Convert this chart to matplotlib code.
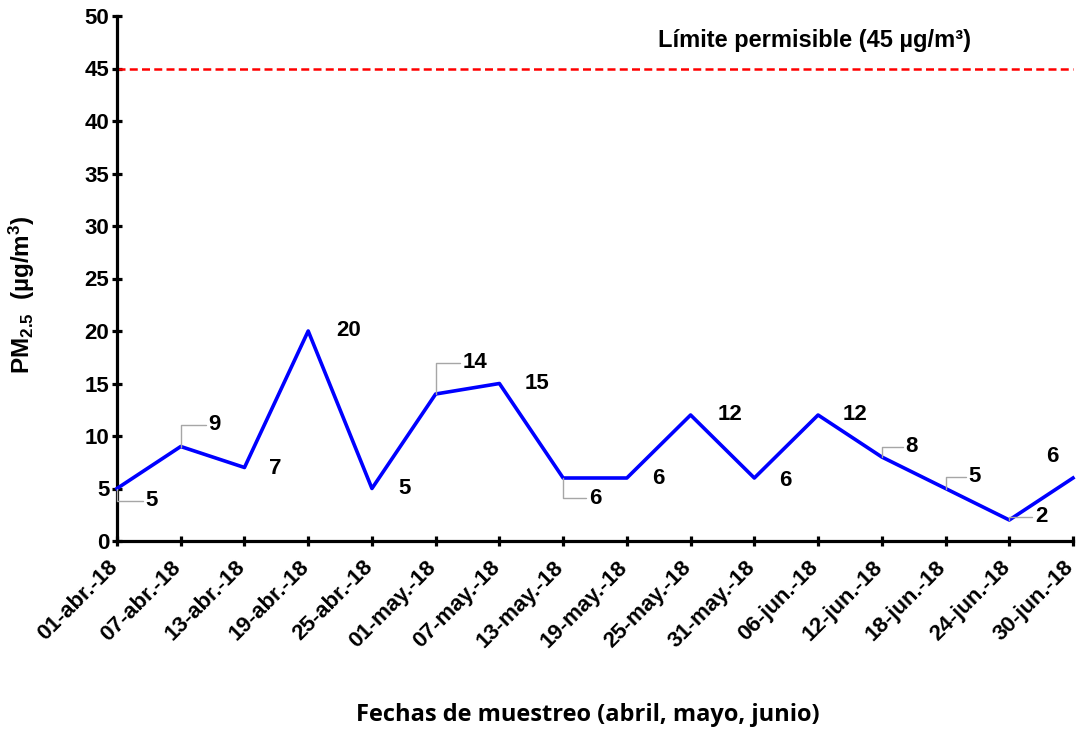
import matplotlib
matplotlib.use("Agg")
import matplotlib.pyplot as plt
from matplotlib.transforms import ScaledTranslation

# Muestreo de PM2.5 cada 6 dias (abril - junio 2018)
fechas = ["01-abr.-18", "07-abr.-18", "13-abr.-18", "19-abr.-18", "25-abr.-18",
          "01-may.-18", "07-may.-18", "13-may.-18", "19-may.-18", "25-may.-18",
          "31-may.-18", "06-jun.-18", "12-jun.-18", "18-jun.-18", "24-jun.-18",
          "30-jun.-18"]
pm25 = [5, 9, 7, 20, 5, 14, 15, 6, 6, 12, 6, 12, 8, 5, 2, 6]
limite = 45

# desplazamiento de cada etiqueta (pixeles) y si lleva linea guia
desp = [(35, -12), (34, 22), (31, -1), (40, 0), (33, 0), (39, 31), (38, 0),
        (32, -20), (31, 0), (39, 0), (31, -2), (37, 0), (30, 10), (29, 12),
        (32, 3), (-21, 21)]
guia = [True, True, False, False, False, True, False, True, False, False,
        False, False, True, True, True, False]

plt.rcParams["font.family"] = ["Liberation Sans", "DejaVu Sans"]
plt.rcParams["mathtext.fontset"] = "custom"
plt.rcParams["mathtext.rm"] = "Liberation Sans:bold"
plt.rcParams["mathtext.bf"] = "Liberation Sans:bold"
plt.rcParams["mathtext.default"] = "bf"

fig = plt.figure(figsize=(10.78, 7.29), dpi=100)
ax = fig.add_axes([117 / 1078, 1 - 541 / 729, (1073 - 117) / 1078, (541 - 16) / 729])

x = list(range(len(pm25)))
ax.plot(x, pm25, color="#0000ff", lw=2.6, clip_on=False, zorder=3)
ax.axhline(limite, color="#ff0000", lw=1.8, linestyle=(0, (3.2, 1.7)), clip_on=False)
ax.text(0.730, 0.954, "Límite permisible (45 µg/m³)", transform=ax.transAxes,
        fontsize=17, fontweight="bold", ha="center", va="center")

# etiquetas de valor
for i, v in enumerate(pm25):
    props = None
    if guia[i]:
        props = dict(arrowstyle="-", color="#a6a6a6", lw=1.0, shrinkA=0, shrinkB=0,
                     connectionstyle="angle,angleA=0,angleB=90,rad=0")
    ax.annotate(str(v), xy=(i, v), xytext=desp[i], textcoords="offset pixels",
                fontsize=16, fontweight="bold", ha="center", va="center",
                arrowprops=props, annotation_clip=False)

ax.set_xlim(0, len(pm25) - 1)
ax.set_ylim(0, 50)
ax.set_yticks(range(0, 51, 5))
ax.set_xticks(x)
ax.set_xticklabels(fechas, rotation=45, ha="right", rotation_mode="anchor")

for s in ["top", "right"]:
    ax.spines[s].set_visible(False)
for s in ["left", "bottom"]:
    ax.spines[s].set_linewidth(2.3)
ax.tick_params(direction="inout", length=7, width=2.3, labelsize=16)
ax.tick_params(axis="y", pad=2)
ax.tick_params(axis="x", pad=5)
mover = ScaledTranslation(-10 / 100, -4 / 100, fig.dpi_scale_trans)
for lab in ax.get_xticklabels():
    lab.set_fontweight("bold")
    lab.set_transform(lab.get_transform() + mover)
for lab in ax.get_yticklabels():
    lab.set_fontweight("bold")

fig.text(22 / 1078, 1 - 295 / 729, "PM$_{2.5}$  (µg/m$^3$)", rotation=90,
         fontsize=17.5, fontweight="bold", ha="center", va="center")
fig.text(588 / 1078, 1 - 715 / 729, "Fechas de muestreo (abril, mayo, junio)",
         fontsize=17, fontweight="bold", family="Open Sans",
         ha="center", va="center")

fig.savefig("out.png", dpi=100)
